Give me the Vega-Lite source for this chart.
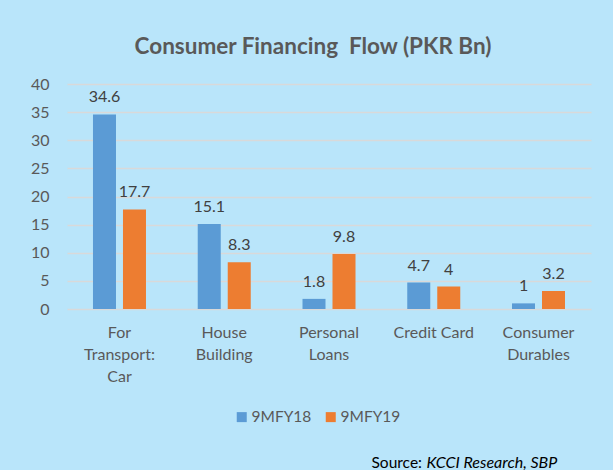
{
  "$schema": "https://vega.github.io/schema/vega-lite/v6.json",
  "width": 524,
  "height": 225,
  "autosize": {"type": "none"},
  "padding": {"left": 67, "top": 84, "right": 22, "bottom": 161},
  "background": "#B9E5FA",
  "title": {
    "text": "Consumer Financing \u00a0Flow (PKR Bn)",
    "font": "Lato",
    "fontSize": 22.5,
    "fontWeight": "bold",
    "color": "#595959",
    "anchor": "middle",
    "frame": "group",
    "dx": -16,
    "offset": 18
  },
  "data": {
    "values": [
      {"category": "For Transport: Car", "series": "9MFY18", "value": 34.6},
      {"category": "For Transport: Car", "series": "9MFY19", "value": 17.7},
      {"category": "House Building", "series": "9MFY18", "value": 15.1},
      {"category": "House Building", "series": "9MFY19", "value": 8.3},
      {"category": "Personal Loans", "series": "9MFY18", "value": 1.8},
      {"category": "Personal Loans", "series": "9MFY19", "value": 9.8},
      {"category": "Credit Card", "series": "9MFY18", "value": 4.7},
      {"category": "Credit Card", "series": "9MFY19", "value": 4},
      {"category": "Consumer Durables", "series": "9MFY18", "value": 1},
      {"category": "Consumer Durables", "series": "9MFY19", "value": 3.2}
    ]
  },
  "encoding": {
    "x": {
      "field": "category",
      "type": "nominal",
      "sort": null,
      "scale": {"paddingInner": 0.494, "paddingOuter": 0.248}
    },
    "xOffset": {
      "field": "series",
      "type": "nominal",
      "scale": {"paddingInner": 0.233, "paddingOuter": 0}
    },
    "y": {
      "field": "value",
      "type": "quantitative",
      "scale": {"domain": [0, 40], "nice": false},
      "axis": {
        "title": null,
        "values": [0, 5, 10, 15, 20, 25, 30, 35, 40],
        "domain": false,
        "ticks": false,
        "labelPadding": 18,
        "labelFont": "Lato",
        "labelFontSize": 16,
        "labelColor": "#595959",
        "gridColor": "#D9D9D9",
        "gridWidth": 1.5
      }
    }
  },
  "layer": [
    {
      "mark": {"type": "bar"},
      "encoding": {
        "x": {
          "field": "category",
          "type": "nominal",
          "sort": null,
          "axis": {
            "orient": "bottom",
            "domain": false,
            "ticks": false,
            "grid": false,
            "labelAngle": 0,
            "labelFont": "Lato",
            "labelFontSize": 16,
            "labelColor": "#595959",
            "labelPadding": 15,
            "labelLineHeight": 22,
            "labelLimit": 0,
            "labelExpr": "datum.value == 'For Transport: Car' ? ['For', 'Transport:', 'Car'] : datum.value == 'Credit Card' ? 'Credit Card' : split(datum.value, ' ')",
            "title": "Source:",
            "titleFont": "Lato",
            "titleFontSize": 15.5,
            "titleFontWeight": "normal",
            "titleColor": "#000000",
            "titleAlign": "left",
            "titleBaseline": "middle",
            "titleX": 304,
            "titleY": 153
          }
        },
        "color": {
          "field": "series",
          "type": "nominal",
          "scale": {"domain": ["9MFY18", "9MFY19"], "range": ["#5B9BD5", "#ED7D31"]},
          "legend": {
            "title": null,
            "orient": "none",
            "direction": "horizontal",
            "legendX": 167,
            "legendY": 325,
            "symbolType": "square",
            "symbolSize": 100,
            "symbolStrokeWidth": 0,
            "labelFont": "Lato",
            "labelFontSize": 15.5,
            "labelColor": "#595959",
            "labelOffset": 2,
            "columnPadding": 11
          }
        }
      }
    },
    {
      "mark": {"type": "text", "baseline": "bottom", "dy": -9, "font": "Lato", "fontSize": 16, "color": "#404040"},
      "encoding": {
        "x": {
          "field": "category",
          "type": "nominal",
          "sort": null,
          "axis": {
            "orient": "bottom",
            "domain": false,
            "ticks": false,
            "grid": false,
            "labels": false,
            "title": "KCCI Research, SBP",
            "titleFont": "Lato",
            "titleFontSize": 16,
            "titleFontWeight": "normal",
            "titleFontStyle": "italic",
            "titleColor": "#000000",
            "titleAlign": "left",
            "titleBaseline": "middle",
            "titleX": 359,
            "titleY": 153
          }
        },
        "text": {"field": "value", "type": "quantitative"}
      }
    }
  ],
  "resolve": {"axis": {"x": "independent"}},
  "config": {"view": {"stroke": null}}
}
